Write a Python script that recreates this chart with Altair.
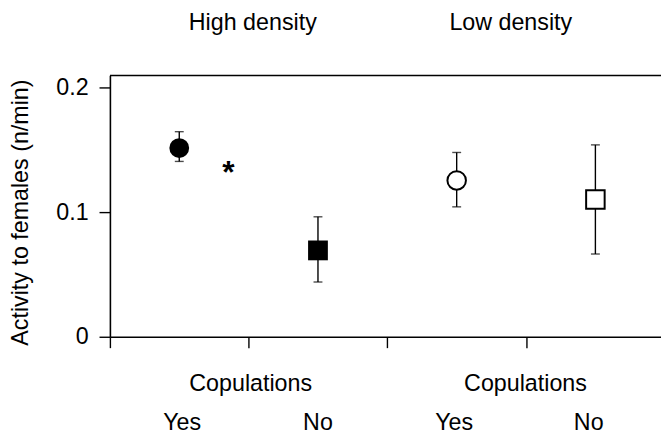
import altair as alt
import pandas as pd

# ---- data ----
positions = [0.5, 1.5, 2.5, 3.5]
means = [0.1516, 0.0694, 0.1256, 0.1103]
upper = [0.1648, 0.0964, 0.1481, 0.1542]
lower = [0.1409, 0.0440, 0.1044, 0.0665]
shapes = ["circle", "square", "circle", "square"]
filled = ["yes", "yes", "no", "no"]

star_x = [0.854]
star_y = [0.1389]

density_labels = ["High density", "Low density"]
density_x = [1.03, 2.89]
density_y = [0.2464, 0.2464]

cop_labels = ["Copulations", "Copulations"]
cop_x = [1.015, 2.996]
cop_y = [-0.0437, -0.0437]

yn_labels = ["Yes", "No", "Yes", "No"]
yn_x = [0.521, 1.50, 2.482, 3.452]
yn_y = [-0.0747, -0.0747, -0.0747, -0.0747]

y_ticks = [0, 0.1, 0.2]
x_ticks = [0, 1, 2, 3]
Y_MAX = 0.2099
X_MAX = 3.973

FONT = "Liberation Sans"

df = pd.DataFrame({"x": positions, "m": means, "hi": upper, "lo": lower,
                   "shape": shapes, "filled": filled})
df_star = pd.DataFrame({"x": star_x, "y": star_y, "t": ["*"]})
df_dens = pd.DataFrame({"x": density_x, "y": density_y, "t": density_labels})
df_cop = pd.DataFrame({"x": cop_x, "y": cop_y, "t": cop_labels})
df_yn = pd.DataFrame({"x": yn_x, "y": yn_y, "t": yn_labels})

xs = alt.Scale(domain=[0, X_MAX], nice=False, zero=False)
ys = alt.Scale(domain=[0, Y_MAX], nice=False, zero=False)

xenc = alt.X("x:Q", scale=xs,
             axis=alt.Axis(values=x_ticks, labels=False, title=None, tickSize=11,
                           domainColor="black", tickColor="black",
                           domainWidth=1.6, tickWidth=1.4, grid=False))
yenc = alt.Y("m:Q", scale=ys,
             axis=alt.Axis(values=y_ticks, format=".1~f", tickSize=11, labelPadding=11,
                           title="Activity to females (n/min)",
                           titleX=-90, titleY=138, titleAngle=-90,
                           titleAlign="center", titleBaseline="middle",
                           titleFont=FONT, titleFontSize=23.5, titleFontWeight="normal",
                           titleColor="black",
                           labelFont=FONT, labelFontSize=23.5, labelColor="black",
                           domainColor="black", tickColor="black",
                           domainWidth=1.6, tickWidth=1.4, grid=False))

base = alt.Chart(df)

frame_top = alt.Chart(pd.DataFrame({"y": [Y_MAX]})).mark_rule(
    color="black", strokeWidth=1.6).encode(y=alt.Y("y:Q", scale=ys))

bars = base.mark_rule(color="black", strokeWidth=1.4).encode(
    x=xenc, y=alt.Y("lo:Q", scale=ys), y2="hi:Q")
cap_hi = base.mark_tick(orient="horizontal", color="black", size=9, thickness=1.4).encode(
    x=alt.X("x:Q", scale=xs), y=alt.Y("hi:Q", scale=ys))
cap_lo = base.mark_tick(orient="horizontal", color="black", size=9, thickness=1.4).encode(
    x=alt.X("x:Q", scale=xs), y=alt.Y("lo:Q", scale=ys))

shape_scale = alt.Scale(domain=["circle", "square"], range=["circle", "square"])

pts_filled = base.transform_filter(alt.datum.filled == "yes").mark_point(
    filled=True, color="black", size=400, opacity=1).encode(
    x=alt.X("x:Q", scale=xs), y=yenc,
    shape=alt.Shape("shape:N", scale=shape_scale, legend=None))
pts_open = base.transform_filter(alt.datum.filled == "no").mark_point(
    filled=True, fill="white", stroke="black", strokeWidth=2, size=350, opacity=1).encode(
    x=alt.X("x:Q", scale=xs), y=alt.Y("m:Q", scale=ys),
    shape=alt.Shape("shape:N", scale=shape_scale, legend=None))

star = alt.Chart(df_star).mark_text(font=FONT, fontSize=32, fontWeight="bold", color="black",
                                    baseline="middle", align="center", dy=9).encode(
    x=alt.X("x:Q", scale=xs), y=alt.Y("y:Q", scale=ys), text="t:N")


def labels(d):
    return alt.Chart(d).mark_text(font=FONT, fontSize=23.5, color="black",
                                  baseline="alphabetic", align="center").encode(
        x=alt.X("x:Q", scale=xs), y=alt.Y("y:Q", scale=ys), text="t:N")


chart = alt.layer(
    frame_top, bars, cap_hi, cap_lo, pts_filled, pts_open, star,
    labels(df_dens), labels(df_cop), labels(df_yn)
).properties(
    width=557, height=264,
    autosize=alt.AutoSizeParams(type="none"),
    padding={"left": 103, "top": 66, "right": 0, "bottom": 97},
    background="white",
).configure_view(stroke=None)

chart.save("out.html", embed_options={"renderer": "svg", "actions": False})
